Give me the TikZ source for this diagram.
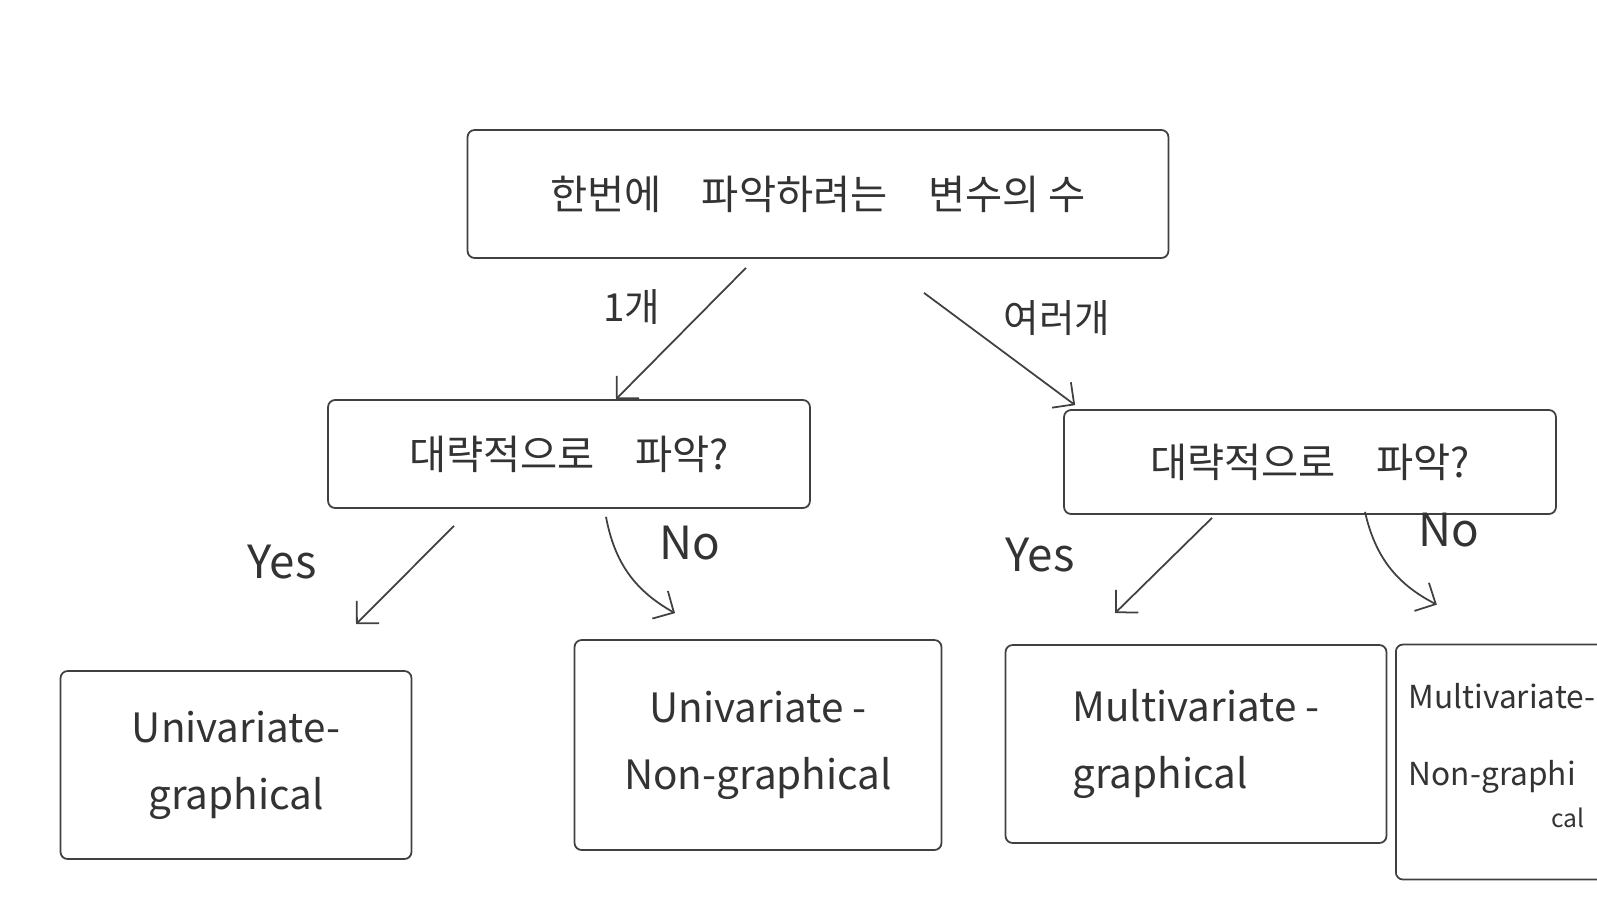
\documentclass[tikz,border=0pt]{standalone}
\usepackage{fontspec}
\setmainfont{Noto Sans CJK KR}
\usetikzlibrary{arrows.meta,calc}
\begin{document}
\begin{tikzpicture}
  [x=0.02cm,y=-0.02cm,
   every node/.style={draw=black!75,line width=1pt,rounded corners=4pt,text=black!80,align=center},
   qbox/.style={font=\fontsize{23}{28}\selectfont},
   leaf/.style={font=\fontsize{23}{38}\selectfont},
   lbl/.style={draw=none,font=\fontsize{22}{26}\selectfont},
   yn/.style={draw=none,font=\fontsize{26}{30}\selectfont},
   arr/.style={draw=black!75,line width=1pt,-{Straight Barb[length=9pt,width=18pt]}}]
  \useasboundingbox (0,0) rectangle (1597,921);
  \clip (0,0) rectangle (1597,921);

  % Pregunta superior
  \node[qbox,minimum width=14.02cm,minimum height=2.56cm] (top) at (818,194)
    {한번에\quad 파악하려는\quad 변수의 수};

  % Preguntas intermedias
  \node[qbox,minimum width=9.64cm,minimum height=2.16cm] (midl) at (569,454) {대략적으로\quad 파악?};
  \node[qbox,minimum width=9.84cm,minimum height=2.08cm] (midr) at (1310,462) {대략적으로\quad 파악?};

  % Hojas
  \node[leaf,minimum width=7.02cm,minimum height=3.76cm] (ug) at (236,765) {Univariate-\\graphical};
  \node[leaf,minimum width=7.34cm,minimum height=4.2cm] (un) at (758,745) {Univariate -\\Non-graphical};
  \node[leaf,minimum width=7.62cm,minimum height=3.96cm,align=left] (mg) at (1196,744) {Multivariate -\\graphical};
  \node[draw=none,font=\fontsize{18}{44}\selectfont,align=left,anchor=north west,inner sep=0pt] (mnt) at (1408,682)
    {Multivariate-\\Non-graphi\\[-20pt]\hspace*{4.5em}{\fontsize{14}{16}\selectfont cal}};
  \node[minimum width=5cm,minimum height=4.7cm,anchor=west] (mn) at (1395,762) {};

  % Etiquetas de las aristas
  \node[lbl] (one) at (632,307) {1개};
  \node[lbl] (many) at (1057,318) {여러개};
  \node[yn] (yesl) at (282,562) {Yes};
  \node[yn] (nol) at (690,543) {No};
  \node[yn] (yesr) at (1040,555) {Yes};
  \node[yn] (nor) at (1449,530) {No};

  % Flechas
  \draw[arr] ($(top.south)+(-72,9)$) -- ($(midl.north)+(47,0)$);
  \draw[arr] ($(top.south)+(106,34)$) -- ($(midr.north west)+(12,-4)$);
  \draw[arr] ($(midl.south)+(-115,17)$) -- ($(ug.north)+(120,-46)$);
  \draw[arr] ($(midl.south)+(37,8)$) to[bend right=25] ($(un.north)+(-83,-26)$);
  \draw[arr] ($(midr.south)+(-98,3)$) -- ($(mg.north)+(-81,-31)$);
  \draw[arr] ($(midr.south)+(55,-3)$) to[bend right=25] ($(mn.north)+(-84,-39)$);

\end{tikzpicture}
\end{document}
